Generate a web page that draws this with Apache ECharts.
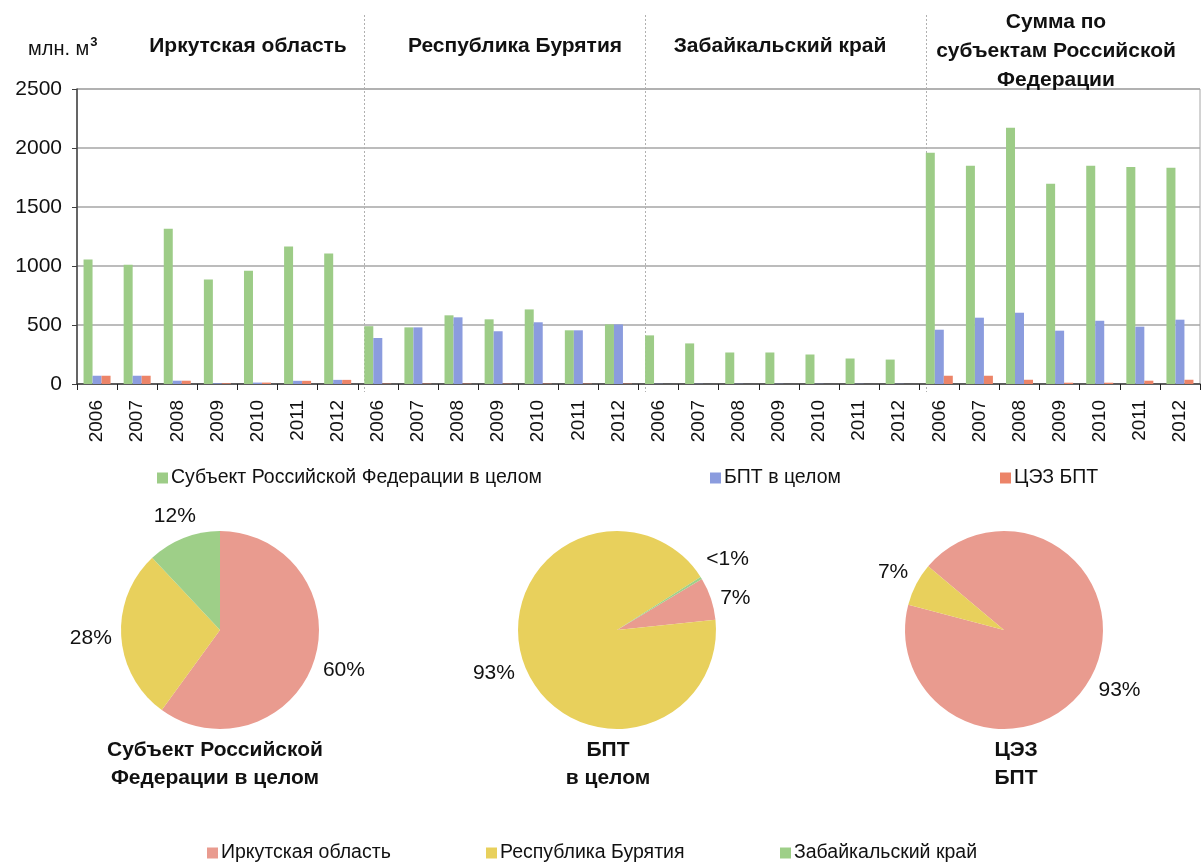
<!DOCTYPE html>
<html>
<head>
<meta charset="utf-8">
<script src="https://cdn.jsdelivr.net/npm/echarts@6/dist/echarts.min.js"></script>
<style>
  html, body { margin: 0; padding: 0; background: #fff; }
  #chart { width: 1203px; height: 865px; }
</style>
</head>
<body>
<div id="chart"></div>
<script>
// Water withdrawal, mln m³, by year and region
const years = ['2006', '2007', '2008', '2009', '2010', '2011', '2012'];
const groupTitles = ['Иркутская область', 'Республика Бурятия', 'Забайкальский край', 'Сумма по\nсубъектам Российской\nФедерации'];
const seriesNames = ['Субъект Российской Федерации в целом', 'БПТ в целом', 'ЦЭЗ БПТ'];

const irkSubject = [1055, 1010, 1315, 885, 960, 1165, 1105];
const irkBpt     = [70, 70, 28, 6, 12, 27, 35];
const irkCez     = [70, 70, 28, 6, 12, 27, 35];

const burSubject = [490, 480, 582, 548, 632, 455, 505];
const burBpt     = [390, 480, 565, 447, 523, 455, 505];
const burCez     = [3, 3, 3, 3, 3, 3, 3];

const zabSubject = [412, 344, 267, 267, 250, 216, 207];
const zabBpt     = [2, 2, 2, 2, 2, 2, 2];
const zabCez     = [0, 0, 0, 0, 0, 0, 0];

const sumSubject = [1960, 1850, 2172, 1697, 1850, 1840, 1832];
const sumBpt     = [460, 562, 604, 452, 536, 486, 545];
const sumCez     = [70, 70, 36, 11, 11, 28, 36];

const yTicks = [0, 500, 1000, 1500, 2000, 2500];

// Shares by region for the three pies
const regionNames = ['Иркутская область', 'Республика Бурятия', 'Забайкальский край'];
const pieSubjectShares = [60, 28, 12];
const pieSubjectLabels = ['60%', '28%', '12%'];
const pieBptShares = [7, 93, 0.4];
const pieBptLabels = ['7%', '93%', '<1%'];
const pieCezShares = [93, 7, 0];
const pieCezLabels = ['93%', '7%', ''];
const pieTitles = ['Субъект Российской\nФедерации в целом', 'БПТ\nв целом', 'ЦЭЗ\nБПТ'];

const FONT = '"Liberation Sans", Arial, sans-serif';
const barColors = ['#9DCC87', '#8B9CDE', '#EC8468'];
const pieColors = ['#E99B8F', '#E8D05C', '#9ECF88'];
const PIE_R = 99;

const groupsData = [
  [irkSubject, irkBpt, irkCez],
  [burSubject, burBpt, burCez],
  [zabSubject, zabBpt, zabCez],
  [sumSubject, sumBpt, sumCez]
];
const categories = [];
groupsData.forEach((g, gi) => years.forEach(y => categories.push(gi + '|' + y)));
const barSeriesData = [0, 1, 2].map(si => groupsData.flatMap(g => g[si]));

// Outside labels sit just clear of the rim, centred on the slice's mid-angle;
// nudge lets a crowded label step aside (pixels, downward positive)
function pieSeries(shares, labels, center, startAngle, nudge) {
  const total = shares.reduce((a, b) => a + b, 0);
  const mids = [];
  let acc = 0;
  shares.forEach(v => {
    mids.push((startAngle - 360 * (acc + v / 2) / total) * Math.PI / 180);
    acc += v;
  });
  return {
    type: 'pie',
    center: center,
    radius: PIE_R,
    startAngle: startAngle,
    clockwise: true,
    avoidLabelOverlap: false,
    label: {
      show: true,
      position: 'outside',
      fontFamily: FONT,
      fontSize: 21,
      color: '#111',
      formatter: p => labels[p.dataIndex]
    },
    labelLine: { show: false, length: 8, length2: 0 },
    labelLayout: p => {
      const a = mids[p.dataIndex];
      const c = Math.cos(a), s = Math.sin(a);
      const w = p.labelRect.width, h = p.labelRect.height;
      const d = PIE_R + 9 + Math.abs(c) * w / 2 + Math.abs(s) * (h - 6) / 2;
      const dy = (nudge && nudge[p.dataIndex]) || 0;
      return { x: center[0] + d * c, y: center[1] - d * s + dy, align: 'center', verticalAlign: 'middle' };
    },
    emphasis: { disabled: true },
    data: shares.map((v, i) => ({
      name: regionNames[i],
      value: v,
      itemStyle: { color: pieColors[i] },
      label: labels[i] ? {} : { show: false }
    }))
  };
}

function legendItem(name, left, top) {
  return {
    data: [name],
    left: left, top: top,
    padding: 0,
    itemWidth: 11, itemHeight: 11, itemGap: 0,
    icon: 'rect',
    textStyle: { fontFamily: FONT, fontSize: 19.5, color: '#111', padding: [0, 0, 0, -2] },
    selectedMode: false
  };
}

const chart = echarts.init(document.getElementById('chart'), null, { renderer: 'canvas' });

const barLegendLeft = [157, 710, 1000];
const pieLegendLeft = [207, 486, 780];

chart.setOption({
  backgroundColor: '#fff',
  animation: false,
  textStyle: { fontFamily: FONT },
  grid: {
    left: 77, right: 3, top: 89, bottom: 481,
    show: true, borderColor: '#A6A6A6', borderWidth: 1, backgroundColor: 'transparent'
  },
  xAxis: {
    type: 'category',
    data: categories,
    boundaryGap: true,
    axisLine: { lineStyle: { color: '#404040', width: 1.5 } },
    axisTick: { show: true, interval: 0, length: 6, lineStyle: { color: '#202020' } },
    axisLabel: {
      interval: 0, rotate: 90, margin: 16,
      fontFamily: FONT, fontSize: 19, color: '#111',
      formatter: v => v.split('|')[1]
    }
  },
  yAxis: {
    type: 'value',
    min: yTicks[0], max: yTicks[yTicks.length - 1], interval: 500,
    axisLine: { show: true, lineStyle: { color: '#404040', width: 1.5 } },
    axisTick: { show: true, length: 5, lineStyle: { color: '#404040' } },
    axisLabel: { fontFamily: FONT, fontSize: 21, color: '#111', margin: 15, formatter: v => String(v) },
    splitLine: { lineStyle: { color: '#A6A6A6', width: 1.5 } }
  },
  legend: [
    ...seriesNames.map((n, i) => legendItem(n, barLegendLeft[i], 468)),
    ...regionNames.map((n, i) => legendItem(n, pieLegendLeft[i], 843))
  ],
  series: [
    ...seriesNames.map((name, si) => ({
      type: 'bar',
      name: name,
      data: barSeriesData[si],
      barWidth: 9,
      barGap: '0%',
      itemStyle: { color: barColors[si] },
      emphasis: { disabled: true }
    })),
    pieSeries(pieSubjectShares, pieSubjectLabels, [220, 630], 90),
    pieSeries(pieBptShares, pieBptLabels, [617, 630], 31, [8, 0, -2]),
    pieSeries(pieCezShares, pieCezLabels, [1004, 630], 140)
  ]
});

// Group separators, headings, unit label and pie captions
const graphics = [];
const barW = 9;
[7, 14, 21].forEach(ci => {
  const x = Math.round(chart.convertToPixel({ xAxisIndex: 0 }, categories[ci]) - 1.5 * barW) + 0.5;
  graphics.push({
    type: 'line',
    shape: { x1: x, y1: 15, x2: x, y2: 392 },
    style: { stroke: '#B0B0B0', lineWidth: 1, lineDash: [2, 2] },
    silent: true
  });
});
const headingX = [248, 515, 780, 1056];
groupTitles.forEach((t, i) => {
  graphics.push({
    type: 'text',
    x: headingX[i],
    y: i === 3 ? 8 : 32,
    style: {
      text: t, textAlign: 'center', textVerticalAlign: 'top',
      font: 'bold 21px ' + FONT, fill: '#111', lineHeight: 29
    },
    silent: true
  });
});
graphics.push({
  type: 'text',
  x: 28, y: 36,
  style: {
    text: '{u|млн. м}{s|3}',
    rich: {
      u: { font: '20px ' + FONT, fill: '#111', verticalAlign: 'bottom' },
      s: { font: 'bold 13px ' + FONT, fill: '#111', verticalAlign: 'top', padding: [0, 0, 10, 1] }
    }
  },
  silent: true
});
const pieTitleX = [215, 608, 1016];
pieTitles.forEach((t, i) => {
  graphics.push({
    type: 'text',
    x: pieTitleX[i], y: 736,
    style: {
      text: t, textAlign: 'center', textVerticalAlign: 'top',
      font: 'bold 21px ' + FONT, fill: '#111', lineHeight: 28
    },
    silent: true
  });
});
chart.setOption({ graphic: graphics });
</script>
</body>
</html>
